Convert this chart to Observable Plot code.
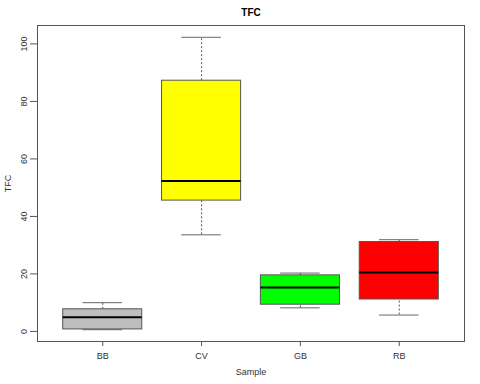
<!DOCTYPE html>
<html><head><meta charset="utf-8">
<script src="https://cdn.jsdelivr.net/npm/d3@7"></script>
<script src="https://cdn.jsdelivr.net/npm/@observablehq/plot@0.6"></script>
<style>
body{margin:0;background:#fff;}
#chart svg{font-family:"Liberation Sans",Arial,sans-serif;}
</style>
</head><body><div id="chart"></div>
<script>
const categories = ["BB","CV","GB","RB"];
const mins    = [0.6, 33.6, 8.2, 5.7];
const q1s     = [0.7, 45.5, 9.3, 11.1];
const medians = [4.9, 52.3, 15.3, 20.5];
const q3s     = [7.7, 87.2, 19.5, 31.1];
const maxs    = [10.0, 102.3, 20.3, 31.9];
const fills   = ["#bebebe","#ffff00","#00ff00","#ff0000"];
const yTicks  = [0,20,40,60,80,100];

const data = categories.map((c,i)=>({cat:c, i:i+1, min:mins[i], q1:q1s[i], med:medians[i], q3:q3s[i], max:maxs[i], fill:fills[i]}));

const plot = Plot.plot({
  width:480, height:384,
  marginTop:25, marginBottom:43, marginLeft:37, marginRight:16,
  style:{fontSize:"9px", fontFamily:"'Liberation Sans',Arial,sans-serif", color:"#333"},
  x:{type:"linear", domain:[0.34,4.66]},
  y:{domain:[-3.5,106.4]},
  marks:[
    Plot.ruleX(data,{x:"i", y1:"q3", y2:"max", stroke:"#555", strokeDasharray:"2,2"}),
    Plot.ruleX(data,{x:"i", y1:"min", y2:"q1", stroke:"#555", strokeDasharray:"2,2"}),
    Plot.ruleY(data,{y:"max", x1:d=>d.i-0.2, x2:d=>d.i+0.2, stroke:"#666"}),
    Plot.ruleY(data,{y:"min", x1:d=>d.i-0.2, x2:d=>d.i+0.2, stroke:"#666"}),
    Plot.rect(data,{x1:d=>d.i-0.4, x2:d=>d.i+0.4, y1:"q1", y2:"q3", fill:"fill", stroke:"#555", strokeWidth:1}),
    Plot.ruleY(data,{y:"med", x1:d=>d.i-0.4, x2:d=>d.i+0.4, stroke:"#000", strokeWidth:2}),
    Plot.frame({stroke:"#555"}),
    Plot.axisY({ticks:yTicks, tickSize:7, tickPadding:4, tickRotate:-90, label:"TFC", labelAnchor:"center", labelArrow:"none", labelOffset:33, stroke:"#555", fill:"#333"}),
    Plot.axisX({ticks:[1,2,3,4], tickFormat:d=>categories[d-1], tickSize:5, tickPadding:6, label:"Sample", labelAnchor:"center", labelArrow:"none", labelOffset:33, stroke:"#555", fill:"#333"}),
    Plot.text(["TFC"],{frameAnchor:"top", dy:-17, fontWeight:"bold", fontSize:10, fill:"#000"})
  ]
});
document.getElementById("chart").appendChild(plot);
</script>
</body></html>
